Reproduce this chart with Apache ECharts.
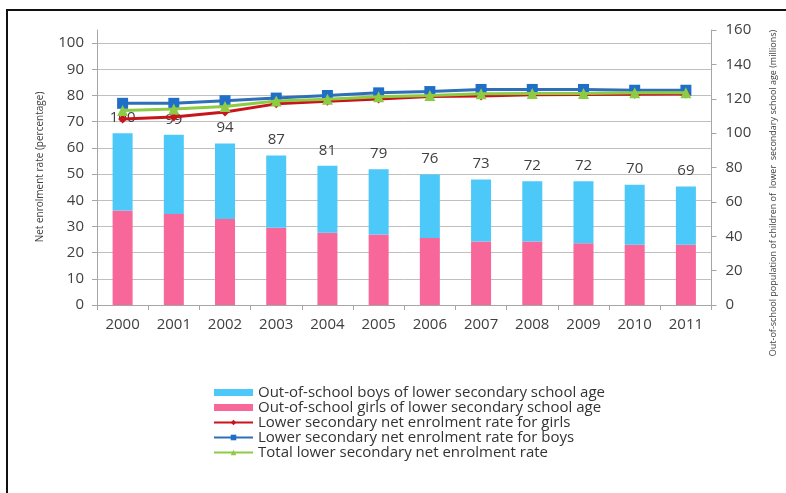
<!DOCTYPE html>
<html>
<head>
<meta charset="utf-8">
<script src="https://cdn.jsdelivr.net/npm/echarts@6/dist/echarts.min.js"></script>
<style>
  html, body { margin: 0; padding: 0; background: #fff; }
  #chart { width: 786px; height: 493px; }
</style>
</head>
<body>
<div id="chart"></div>
<script>
// Years on the category axis
const years = ['2000', '2001', '2002', '2003', '2004', '2005', '2006', '2007', '2008', '2009', '2010', '2011'];

// Out-of-school population of lower secondary age (millions)
const outOfSchoolTotal = [100, 99, 94, 87, 81, 79, 76, 73, 72, 72, 70, 69];
const outOfSchoolGirls = [55, 53, 50, 45, 42, 41, 39, 37, 37, 36, 35, 35];
const outOfSchoolBoys = outOfSchoolTotal.map((t, i) => t - outOfSchoolGirls[i]);

// Lower secondary net enrolment rate (%)
const nerGirls = [71, 71.8, 73.7, 76.8, 77.8, 78.7, 79.6, 79.8, 80.3, 80.4, 80.5, 80.6];
const nerBoys = [77, 77, 78, 79, 80, 81, 81.5, 82.3, 82.3, 82.3, 82, 82];
const nerTotal = [74.3, 74.8, 75.8, 77.9, 78.6, 79.5, 80, 80.7, 80.8, 80.8, 81, 81];

const FONT = '"Open Sans", "Liberation Sans", sans-serif';
const AXIS_GREY = '#A6A6A6';
const TEXT_GREY = '#404040';

const chart = echarts.init(document.getElementById('chart'), null, { renderer: 'canvas' });

chart.setOption({
  animation: false,
  backgroundColor: '#ffffff',
  textStyle: { fontFamily: FONT },
  grid: { left: 97, right: 74.5, top: 30, bottom: 188, containLabel: false },
  graphic: [
    {
      type: 'rect',
      shape: { x: 7, y: 10, width: 800, height: 500 },
      style: { fill: 'none', stroke: '#111', lineWidth: 2 },
      silent: true, z: 100
    },
    {
      type: 'text',
      x: 40, y: 167,
      rotation: Math.PI / 2,
      style: {
        text: 'Net enrolment rate (percentage)',
        font: '10px ' + FONT,
        fill: TEXT_GREY,
        align: 'center',
        verticalAlign: 'middle'
      }
    },
    {
      type: 'text',
      x: 773, y: 193,
      rotation: Math.PI / 2,
      style: {
        text: 'Out-of-school population of children of  lower  secondary school age (millions)',
        font: '9px ' + FONT,
        fill: TEXT_GREY,
        align: 'center',
        verticalAlign: 'middle'
      }
    }
  ],
  legend: {
    orient: 'vertical',
    left: 213,
    top: 385,
    padding: 0,
    itemGap: 0,
    itemWidth: 39,
    itemHeight: 7,
    textStyle: { fontFamily: FONT, fontSize: 15, color: '#333333', lineHeight: 14 },
    data: [
      { name: 'Out-of-school boys of lower secondary school age', icon: 'rect' },
      { name: 'Out-of-school girls of lower secondary school age', icon: 'rect' },
      'Lower secondary net enrolment rate for girls',
      'Lower secondary net enrolment rate for boys',
      'Total lower secondary net enrolment rate'
    ]
  },
  xAxis: {
    type: 'category',
    data: years,
    boundaryGap: true,
    axisLine: { lineStyle: { color: AXIS_GREY, width: 1 } },
    axisTick: { show: true, length: 5, lineStyle: { color: AXIS_GREY } },
    axisLabel: { fontSize: 15, color: TEXT_GREY, margin: 12, fontFamily: FONT }
  },
  yAxis: [
    {
      type: 'value',
      position: 'left',
      min: 0, max: 105, interval: 10,
      axisLine: { show: true, lineStyle: { color: AXIS_GREY } },
      axisTick: { show: true, length: 5, lineStyle: { color: AXIS_GREY } },
      axisLabel: { fontSize: 15, color: TEXT_GREY, margin: 13, showMaxLabel: false, fontFamily: FONT },
      splitLine: { show: true, showMaxLine: false, lineStyle: { color: '#BFBFBF', width: 1 } }
    },
    {
      type: 'value',
      position: 'right',
      min: 0, max: 160, interval: 20,
      axisLine: { show: true, lineStyle: { color: AXIS_GREY } },
      axisTick: { show: true, length: 5, lineStyle: { color: AXIS_GREY } },
      axisLabel: { fontSize: 15, color: TEXT_GREY, margin: 14, fontFamily: FONT },
      splitLine: { show: false }
    }
  ],
  series: [
    {
      name: 'Out-of-school girls of lower secondary school age',
      type: 'bar',
      stack: 'oos',
      yAxisIndex: 1,
      barWidth: 20,
      itemStyle: { color: '#F7679A' },
      data: outOfSchoolGirls,
      z: 2
    },
    {
      name: 'Out-of-school boys of lower secondary school age',
      type: 'bar',
      stack: 'oos',
      yAxisIndex: 1,
      barWidth: 20,
      itemStyle: { color: '#4CC9F8' },
      data: outOfSchoolBoys,
      label: {
        show: true,
        position: 'top',
        distance: 8,
        fontSize: 15,
        color: TEXT_GREY,
        fontFamily: FONT,
        formatter: p => String(outOfSchoolTotal[p.dataIndex])
      },
      z: 2
    },
    {
      name: 'Lower secondary net enrolment rate for girls',
      type: 'line',
      yAxisIndex: 0,
      data: nerGirls,
      symbol: 'diamond',
      symbolSize: 9,
      lineStyle: { color: '#C8151B', width: 3 },
      itemStyle: { color: '#C8151B' },
      z: 5
    },
    {
      name: 'Lower secondary net enrolment rate for boys',
      type: 'line',
      yAxisIndex: 0,
      data: nerBoys,
      symbol: 'rect',
      symbolSize: 11,
      lineStyle: { color: '#2E6FB8', width: 3 },
      itemStyle: { color: '#1F6FC8' },
      z: 4
    },
    {
      name: 'Total lower secondary net enrolment rate',
      type: 'line',
      yAxisIndex: 0,
      data: nerTotal,
      symbol: 'triangle',
      symbolSize: 11,
      lineStyle: { color: '#8DCB45', width: 3 },
      itemStyle: { color: '#8DCB45' },
      z: 6
    }
  ]
});
</script>
</body>
</html>
